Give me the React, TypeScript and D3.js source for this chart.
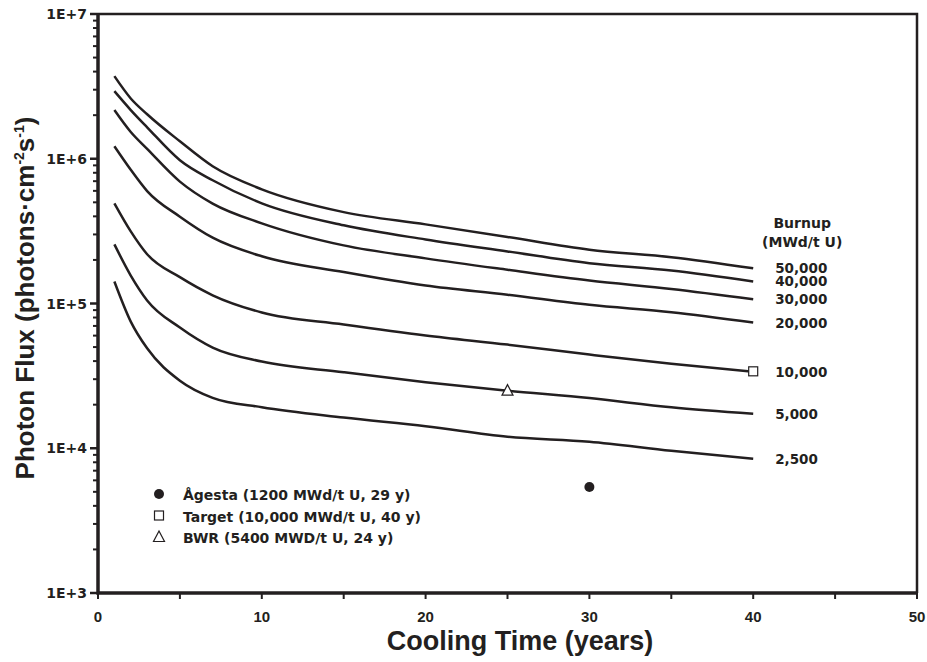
import { useRef, useEffect } from "react"
import * as d3 from "d3"

const coolingTime = [1, 2, 3, 5, 7, 10, 15, 20, 25, 30, 35, 40]

// photon flux per burnup level (photons/cm2/s)
const flux50000 = [3.72e6, 2.61e6, 2.03e6, 1.32e6, 8.87e5, 6.15e5, 4.28e5, 3.52e5, 2.88e5, 2.35e5, 2.09e5, 1.75e5]
const flux40000 = [2.93e6, 2.17e6, 1.65e6, 9.77e5, 7.1e5, 4.92e5, 3.47e5, 2.77e5, 2.29e5, 1.9e5, 1.69e5, 1.42e5]
const flux30000 = [2.17e6, 1.53e6, 1.17e6, 6.95e5, 4.9e5, 3.58e5, 2.52e5, 2.05e5, 1.71e5, 1.44e5, 1.26e5, 1.07e5]
const flux20000 = [1.22e6, 8.39e5, 5.98e5, 3.98e5, 2.85e5, 2.12e5, 1.65e5, 1.33e5, 1.15e5, 9.8e4, 8.7e4, 7.39e4]
const flux10000 = [4.92e5, 3.15e5, 2.19e5, 1.52e5, 1.14e5, 8.67e4, 7.16e4, 6.01e4, 5.2e4, 4.44e4, 3.83e4, 3.38e4]
const flux5000 = [2.56e5, 1.56e5, 1.05e5, 6.82e4, 4.96e4, 3.97e4, 3.35e4, 2.86e4, 2.5e4, 2.22e4, 1.92e4, 1.73e4]
const flux2500 = [1.42e5, 7.5e4, 4.9e4, 2.93e4, 2.23e4, 1.92e4, 1.63e4, 1.42e4, 1.2e4, 1.11e4, 9.6e3, 8.46e3]

const burnupLabels = ["50,000", "40,000", "30,000", "20,000", "10,000", "5,000", "2,500"]
const burnupSeries = [flux50000, flux40000, flux30000, flux20000, flux10000, flux5000, flux2500]

// measured fuel assemblies: [cooling time, flux]
const agesta: [number, number] = [30, 5.4e3]
const target: [number, number] = [40, 3.4e4]
const bwr: [number, number] = [25, 2.5e4]

const legendLabels = [
  "Ågesta (1200 MWd/t U, 29 y)",
  "Target (10,000 MWd/t U, 40 y)",
  "BWR (5400 MWD/t U, 24 y)",
]

const xTicks = [0, 10, 20, 30, 40, 50]
const yTicks = [1e3, 1e4, 1e5, 1e6, 1e7]
const yTickLabels = ["1E+3", "1E+4", "1E+5", "1E+6", "1E+7"]

const ink = "#231f20"
const boldFont = "'DejaVu Sans', sans-serif"
const titleFont = "'Liberation Sans', Arial, sans-serif"

const App = () => {
  const svgRef = useRef<SVGSVGElement>(null)

  useEffect(() => {
    const svg = d3.select(svgRef.current)
    svg.selectAll("*").remove()

    const left = 98
    const right = 917
    const top = 14
    const bottom = 593

    const x = d3.scaleLinear().domain([0, 50]).range([left, right])
    const y = d3.scaleLog().domain([1e3, 1e7]).range([bottom, top])

    // frame top and right
    svg
      .append("path")
      .attr("d", `M${left},${top}H${right}V${bottom}`)
      .attr("fill", "none")
      .attr("stroke", ink)
      .attr("stroke-width", 2.5)

    // minor y ticks
    const minors: number[] = []
    for (let e = 3; e < 7; e++) for (let m = 2; m <= 9; m++) minors.push(m * Math.pow(10, e))
    svg
      .append("g")
      .selectAll("line")
      .data(minors)
      .enter()
      .append("line")
      .attr("x1", left - 5)
      .attr("x2", left)
      .attr("y1", (d) => y(d))
      .attr("y2", (d) => y(d))
      .attr("stroke", ink)
      .attr("stroke-width", 2)

    // major y ticks + labels
    const yg = svg.append("g")
    yg.selectAll("line")
      .data(yTicks)
      .enter()
      .append("line")
      .attr("x1", left - 8)
      .attr("x2", left)
      .attr("y1", (d) => y(d))
      .attr("y2", (d) => y(d))
      .attr("stroke", ink)
      .attr("stroke-width", 2.5)
    yg.selectAll("text")
      .data(yTicks)
      .enter()
      .append("text")
      .attr("x", left - 11)
      .attr("y", (d) => y(d) + 5)
      .attr("text-anchor", "end")
      .style("font-family", boldFont)
      .style("font-weight", "bold")
      .style("font-size", "14px")
      .style("fill", ink)
      .text((d, i) => yTickLabels[i])

    // x ticks every 5 years, labels every 10
    svg
      .append("g")
      .selectAll("line")
      .data(d3.range(0, 51, 5))
      .enter()
      .append("line")
      .attr("x1", (d) => x(d))
      .attr("x2", (d) => x(d))
      .attr("y1", bottom)
      .attr("y2", bottom + 6)
      .attr("stroke", ink)
      .attr("stroke-width", 2)
    svg
      .append("g")
      .selectAll("text")
      .data(xTicks)
      .enter()
      .append("text")
      .attr("x", (d) => x(d))
      .attr("y", bottom + 29)
      .attr("text-anchor", "middle")
      .style("font-family", titleFont)
      .style("font-weight", "bold")
      .style("font-size", "15px")
      .style("fill", ink)
      .text((d) => d)

    // axis lines
    svg
      .append("path")
      .attr("d", `M${left},${top}V${bottom}H${right}`)
      .attr("fill", "none")
      .attr("stroke", ink)
      .attr("stroke-width", 3.5)

    // axis titles
    svg
      .append("text")
      .attr("x", 520)
      .attr("y", 650)
      .attr("text-anchor", "middle")
      .style("font-family", titleFont)
      .style("font-weight", "bold")
      .style("font-size", "27px")
      .style("fill", ink)
      .text("Cooling Time (years)")

    const yTitle = svg
      .append("text")
      .attr("transform", "translate(34,298) rotate(-90)")
      .attr("text-anchor", "middle")
      .style("font-family", titleFont)
      .style("font-weight", "bold")
      .style("font-size", "26px")
      .style("fill", ink)
    yTitle.append("tspan").text("Photon Flux (photons·cm")
    yTitle.append("tspan").attr("dy", -10).style("font-size", "14px").text("-2")
    yTitle.append("tspan").attr("dy", 10).text("s")
    yTitle.append("tspan").attr("dy", -10).style("font-size", "14px").text("-1")
    yTitle.append("tspan").attr("dy", 10).text(")")

    // burnup curves
    const line = d3
      .line<number>()
      .x((d, i) => x(coolingTime[i]))
      .y((d) => y(d))
      .curve(d3.curveMonotoneX)

    svg
      .append("g")
      .selectAll("path")
      .data(burnupSeries)
      .enter()
      .append("path")
      .attr("d", (d) => line(d))
      .attr("fill", "none")
      .attr("stroke", ink)
      .attr("stroke-width", 2.5)

    // burnup labels
    const labelX = x(40) + 22
    svg
      .append("g")
      .selectAll("text")
      .data(burnupSeries)
      .enter()
      .append("text")
      .attr("x", labelX)
      .attr("y", (d) => y(d[d.length - 1]) + 5)
      .style("font-family", boldFont)
      .style("font-weight", "bold")
      .style("font-size", "13.5px")
      .style("fill", ink)
      .text((d, i) => burnupLabels[i])

    svg
      .append("text")
      .attr("x", labelX + 27)
      .attr("y", 228)
      .attr("text-anchor", "middle")
      .style("font-family", boldFont)
      .style("font-weight", "bold")
      .style("font-size", "14px")
      .style("fill", ink)
      .text("Burnup")
    svg
      .append("text")
      .attr("x", labelX + 27)
      .attr("y", 247)
      .attr("text-anchor", "middle")
      .style("font-family", boldFont)
      .style("font-weight", "bold")
      .style("font-size", "14px")
      .style("fill", ink)
      .text("(MWd/t U)")

    // markers
    const drawCircle = (g: any, cx: number, cy: number) =>
      g.append("circle").attr("cx", cx).attr("cy", cy).attr("r", 5).attr("fill", ink)
    const drawSquare = (g: any, cx: number, cy: number) =>
      g
        .append("rect")
        .attr("x", cx - 4.5)
        .attr("y", cy - 4.5)
        .attr("width", 9)
        .attr("height", 9)
        .attr("fill", "white")
        .attr("stroke", ink)
        .attr("stroke-width", 1.2)
    const drawTriangle = (g: any, cx: number, cy: number) =>
      g
        .append("path")
        .attr("d", `M${cx},${cy - 6}L${cx + 5.5},${cy + 4.5}L${cx - 5.5},${cy + 4.5}Z`)
        .attr("fill", "white")
        .attr("stroke", ink)
        .attr("stroke-width", 1.2)

    const marks = svg.append("g")
    drawCircle(marks, x(agesta[0]), y(agesta[1]))
    drawSquare(marks, x(target[0]), y(target[1]))
    drawTriangle(marks, x(bwr[0]), y(bwr[1]))

    // legend
    const legend = svg.append("g").attr("transform", "translate(159,494)")
    const drawers = [drawCircle, drawSquare, drawTriangle]
    legendLabels.forEach((label, i) => {
      const cy = i * 21.5
      drawers[i](legend, 0, cy)
      legend
        .append("text")
        .attr("x", 24)
        .attr("y", cy + 6)
        .style("font-family", boldFont)
        .style("font-weight", "bold")
        .style("font-size", "14px")
        .style("fill", ink)
        .text(label)
    })
  }, [])

  return (
    <div className="chart-container">
      <svg
        ref={svgRef}
        width={927}
        height={662}
        style={{ position: "absolute", left: 0, top: 0, background: "white" }}
      ></svg>
    </div>
  )
}

export default App
